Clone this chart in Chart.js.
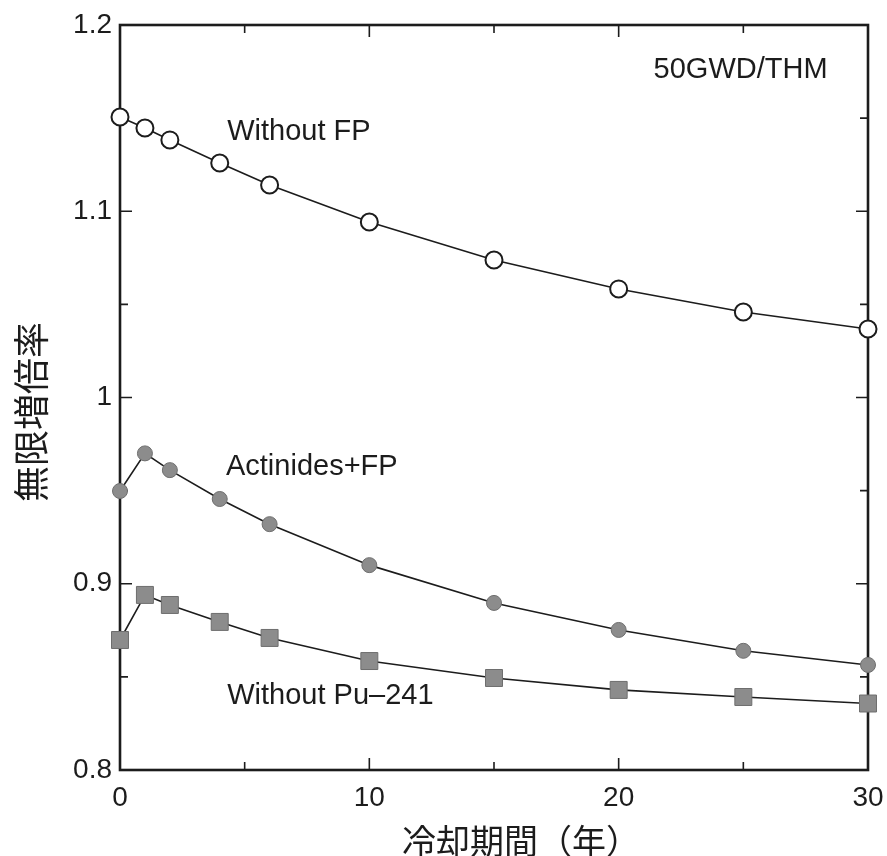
<!DOCTYPE html>
<html>
<head>
<meta charset="utf-8">
<script src="https://cdn.jsdelivr.net/npm/chart.js@4.4.1/dist/chart.umd.min.js"></script>
<style>
  body { margin: 0; background: #fff; }
  #chart { display: block; }
</style>
</head>
<body>
<canvas id="chart" width="887" height="856"></canvas>
<script>
// cooling period (years)
const years = [0, 1, 2, 4, 6, 10, 15, 20, 25, 30];
// k-infinity for each case
const without_fp = [1.1506, 1.1447, 1.1383, 1.1259, 1.1141, 1.0942, 1.0738, 1.0583, 1.0459, 1.0368];
const actinides_fp = [0.9498, 0.9700, 0.9610, 0.9455, 0.9320, 0.9100, 0.8897, 0.8752, 0.8640, 0.8564];
const without_pu241 = [0.8698, 0.8940, 0.8886, 0.8795, 0.8709, 0.8585, 0.8494, 0.8430, 0.8392, 0.8357];

const series_names = ["Without FP", "Actinides+FP", "Without Pu\u2013241"];
const x_ticks = [0, 10, 20, 30];
const y_ticks = [0.8, 0.9, 1, 1.1, 1.2];
const x_title = "冷却期間（年）";
const y_title = "無限増倍率";

const ink = "#1c1c1c";
const font_family = "'Liberation Sans', Arial, Helvetica, sans-serif";
const cjk_family = "'Noto Sans CJK JP', 'Noto Sans CJK SC', sans-serif";

// text placed inside the plot, in data units
const notes = [
    { text: series_names[0], x: 4.3, y: 1.1425 },
    { text: series_names[1], x: 4.25, y: 0.9625 },
    { text: series_names[2], x: 4.3, y: 0.8395 },
    { text: "50GWD/THM", x: 21.4, y: 1.1758 },
];

function pts(vals) {
    return years.map((x, i) => ({ x: x, y: vals[i] }));
}

// frame + inward ticks on all four sides, plus axis titles
const frame_plugin = {
    id: "frame",
    beforeDatasetsDraw(chart) {
        const { ctx, chartArea: a, scales } = chart;
        ctx.save();
        ctx.strokeStyle = ink;
        ctx.lineWidth = 1.6;
        for (let v = 0; v <= 30; v += 5) {
            const px = scales.x.getPixelForValue(v);
            const len = v % 10 === 0 ? 12 : 8;
            ctx.beginPath();
            ctx.moveTo(px, a.bottom); ctx.lineTo(px, a.bottom - len);
            ctx.moveTo(px, a.top); ctx.lineTo(px, a.top + len);
            ctx.stroke();
        }
        for (let k = 0; k <= 8; k++) {
            const py = scales.y.getPixelForValue(0.8 + k * 0.05);
            const len = k % 2 === 0 ? 12 : 8;
            ctx.beginPath();
            ctx.moveTo(a.left, py); ctx.lineTo(a.left + len, py);
            ctx.moveTo(a.right, py); ctx.lineTo(a.right - len, py);
            ctx.stroke();
        }
        ctx.lineWidth = 2.6;
        ctx.strokeRect(a.left, a.top, a.right - a.left, a.bottom - a.top);
        ctx.restore();
    },
    afterDraw(chart) {
        const { ctx, scales, chartArea: a } = chart;
        ctx.save();
        ctx.fillStyle = ink;
        ctx.font = "29px " + font_family;
        ctx.textBaseline = "middle";
        ctx.textAlign = "left";
        for (let n of notes) {
            ctx.fillText(n.text, scales.x.getPixelForValue(n.x), scales.y.getPixelForValue(n.y));
        }
        // axis titles
        ctx.textAlign = "center";
        ctx.font = "34px " + cjk_family;
        ctx.fillText(x_title, (a.left + a.right) / 2 + 27, 841);
        ctx.translate(31, 412);
        ctx.rotate(-Math.PI / 2);
        ctx.font = "36px " + cjk_family;
        ctx.fillText(y_title, 0, 0);
        ctx.restore();
    }
};

const ctx = document.getElementById("chart").getContext("2d");
const myChart = new Chart(ctx, {
    type: "line",
    data: {
        datasets: [
            {
                label: series_names[0],
                data: pts(without_fp),
                borderColor: ink,
                borderWidth: 1.6,
                pointStyle: "circle",
                pointRadius: 8.5,
                pointBackgroundColor: "#fff",
                pointBorderColor: ink,
                pointBorderWidth: 2,
                clip: false
            },
            {
                label: series_names[1],
                data: pts(actinides_fp),
                borderColor: ink,
                borderWidth: 1.6,
                pointStyle: "circle",
                pointRadius: 7.5,
                pointBackgroundColor: "#8c8c8c",
                pointBorderColor: "#6e6e6e",
                pointBorderWidth: 1,
                clip: false
            },
            {
                label: series_names[2],
                data: pts(without_pu241),
                borderColor: ink,
                borderWidth: 1.6,
                pointStyle: "rect",
                pointRadius: 12,
                pointBackgroundColor: "#8c8c8c",
                pointBorderColor: "#6e6e6e",
                pointBorderWidth: 1,
                clip: false
            }
        ]
    },
    options: {
        responsive: false,
        animation: false,
        layout: { padding: { left: 0, right: 19, top: 25, bottom: 0 } },
        plugins: {
            legend: { display: false },
            tooltip: { enabled: false }
        },
        scales: {
            x: {
                type: "linear",
                min: 0,
                max: 30,
                afterFit: (s) => { s.height = 86; s.paddingRight = 0; s.paddingLeft = 0; },
                afterBuildTicks: (s) => { s.ticks = x_ticks.map(v => ({ value: v })); },
                grid: { drawOnChartArea: false, drawTicks: false },
                border: { display: false },
                ticks: {
                    padding: 11,
                    color: ink,
                    font: { family: font_family, size: 28 },
                    maxRotation: 0
                }
            },
            y: {
                type: "linear",
                min: 0.8,
                max: 1.2,
                afterFit: (s) => { s.width = 120; s.paddingTop = 0; s.paddingBottom = 0; },
                afterBuildTicks: (s) => { s.ticks = y_ticks.map(v => ({ value: v })); },
                grid: { drawOnChartArea: false, drawTicks: false },
                border: { display: false },
                ticks: {
                    padding: 8,
                    color: ink,
                    font: { family: font_family, size: 28 },
                    callback: (v) => String(+Number(v).toFixed(2))
                }
            }
        }
    },
    plugins: [frame_plugin]
});
</script>
</body>
</html>
